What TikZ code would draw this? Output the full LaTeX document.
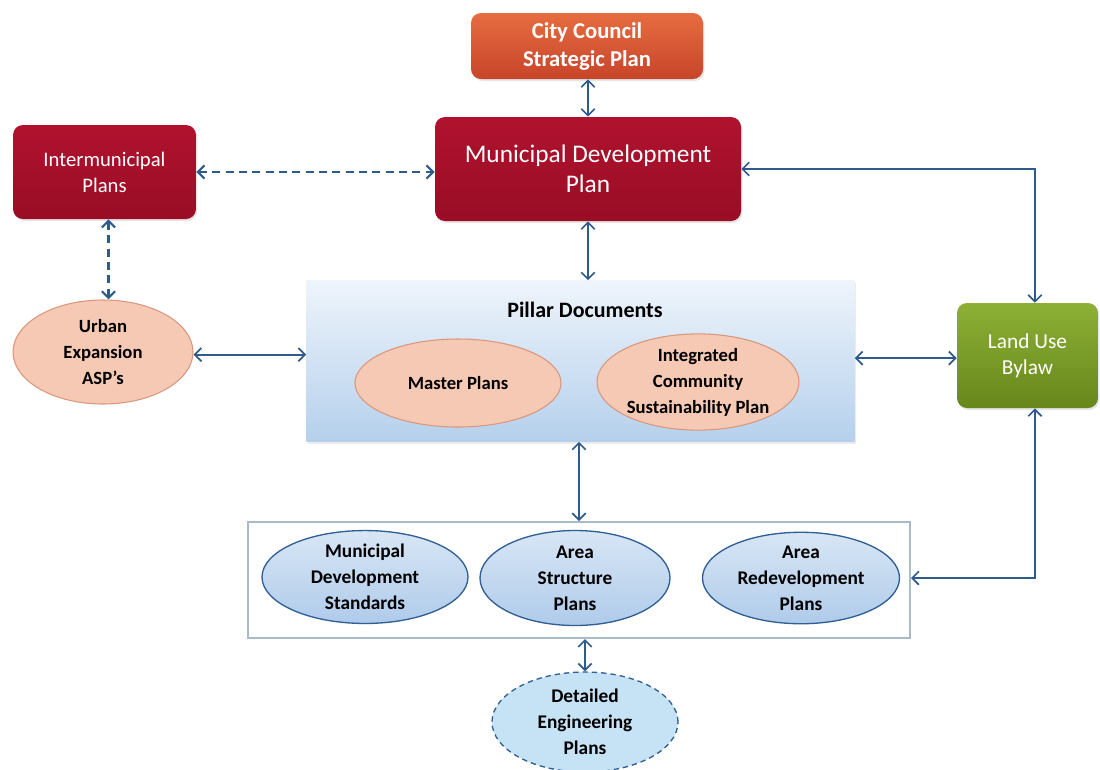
\documentclass[tikz,border=0pt]{standalone}
\usepackage{fontspec}
\setmainfont{Carlito}
\usetikzlibrary{arrows.meta,shapes.geometric,shadows,calc}
\definecolor{arrowblue}{HTML}{2E5A8C}
\definecolor{ccTop}{HTML}{E66C40}
\definecolor{ccBot}{HTML}{C7452A}
\definecolor{redTop}{HTML}{B0122E}
\definecolor{redBot}{HTML}{990D25}
\definecolor{peach}{HTML}{F6C9B4}
\definecolor{peachLine}{HTML}{D9977C}
\definecolor{pilTop}{HTML}{EEF4FB}
\definecolor{pilBot}{HTML}{B5D0EC}
\definecolor{blueTop}{HTML}{D8E6F5}
\definecolor{blueBot}{HTML}{AFCBEA}
\definecolor{blueLine}{HTML}{2F5F94}
\definecolor{detFill}{HTML}{C6E3F5}
\definecolor{grTop}{HTML}{8DB035}
\definecolor{grBot}{HTML}{67871C}
\definecolor{boxLine}{HTML}{A9BACB}
\tikzset{
  redbox/.style={rectangle, rounded corners=7.5pt, top color=redTop, bottom color=redBot,
     text=white, align=center, inner sep=0pt,
     drop shadow={opacity=0.2, shadow xshift=1pt, shadow yshift=-1.5pt}},
  peachell/.style={ellipse, fill=peach, draw=peachLine, line width=0.8pt, align=center, inner sep=0pt,
     font=\bfseries\fontsize{14}{19.5}\selectfont},
  blueell/.style={ellipse, top color=blueTop, bottom color=blueBot, draw=blueLine, line width=1pt,
     align=center, inner sep=0pt, font=\bfseries\fontsize{14.5}{19.5}\selectfont},
  arr/.style={draw=arrowblue, line width=1.3pt, {Straight Barb[length=5pt,width=10pt]}-{Straight Barb[length=5pt,width=10pt]}},
  dasharr/.style={arr, line width=1.6pt, dash pattern=on 6pt off 4pt},
}
\begin{document}
\begin{tikzpicture}[x=0.75pt, y=-0.75pt]
\useasboundingbox (0,0) rectangle (1100,769);

% boxes
\node[rectangle, rounded corners=7.5pt, top color=ccTop, bottom color=ccBot, text=white, align=center,
      inner sep=0pt, minimum width=174pt, minimum height=49.5pt,
      font=\bfseries\fontsize{17}{21}\selectfont,
      drop shadow={opacity=0.2, shadow xshift=1pt, shadow yshift=-1.5pt}]
      (cc) at (587,46) {City Council\\Strategic Plan};
\node[redbox, minimum width=229.5pt, minimum height=78pt, font=\fontsize{19}{22.5}\selectfont]
      (mdp) at (588,169) {Municipal Development\\Plan};
\node[redbox, minimum width=137.25pt, minimum height=70.5pt, font=\fontsize{15.5}{19.5}\selectfont]
      (inter) at (104.5,172) {Intermunicipal\\Plans};

\node[peachell, minimum width=135pt, minimum height=78pt] (urban) at (103,352) {Urban\\Expansion\\ASP’s};

\node[rectangle, top color=pilTop, bottom color=pilBot, inner sep=0pt,
      minimum width=411pt, minimum height=120.75pt,
      drop shadow={opacity=0.15, shadow xshift=1pt, shadow yshift=-1.5pt}]
      (pillar) at (580.5,361) {};
\node[font=\bfseries\fontsize{16.5}{19.5}\selectfont] (piltitle) at (585,310) {Pillar Documents};
\node[peachell, minimum width=154.5pt, minimum height=66pt] (master) at (458,383) {Master Plans};
\node[peachell, minimum width=151.5pt, minimum height=69pt] (icsp) at (698,382) {Integrated\\Community\\Sustainability Plan};

\node[rectangle, rounded corners=7.5pt, top color=grTop, bottom color=grBot, text=white, align=center,
      inner sep=0pt, minimum width=105.75pt, minimum height=78.75pt,
      font=\fontsize{16}{19.5}\selectfont,
      drop shadow={opacity=0.2, shadow xshift=1pt, shadow yshift=-1.5pt}]
      (lub) at (1027.5,355.5) {Land Use\\Bylaw};

\node[rectangle, draw=boxLine, line width=1.5pt, fill=white, inner sep=0pt,
      minimum width=496.5pt, minimum height=87pt] (bot) at (579,580) {};
\node[blueell, minimum width=154.5pt, minimum height=67.5pt] (mds) at (365,577) {Municipal\\Development\\Standards};
\node[blueell, minimum width=142.5pt, minimum height=71.25pt] (asp) at (575,578) {Area\\Structure\\Plans};
\node[blueell, minimum width=147.75pt, minimum height=66.75pt] (arp) at (801,578) {Area\\Redevelopment\\Plans};

\node[ellipse, fill=detFill, draw=blueLine, line width=1pt, dash pattern=on 4pt off 3pt,
      align=center, inner sep=0pt, minimum width=139.5pt, minimum height=75pt,
      font=\bfseries\fontsize{14.5}{19.5}\selectfont] (det) at (585,722) {Detailed\\Engineering\\Plans};

% connectors
\draw[arr] ([xshift=0.75pt]cc.south) -- ([xshift=0.75pt]cc.south |- mdp.north);
\draw[dasharr] (inter.east) -- (inter.east -| mdp.west);
\draw[arr] (mdp.south) -- (mdp.south |- pillar.north);
\draw[dasharr] ([xshift=3pt]inter.south) -- ([xshift=3pt]inter.south |- urban.north);
\draw[arr] ([yshift=-2pt]urban.east) -- ([yshift=-2pt]urban.east -| pillar.west);
\draw[arr] ([yshift=-2pt]lub.west -| pillar.east) -- ([yshift=-2pt]lub.west);
\draw[arr] (mdp.east) -| ([xshift=5.6pt]lub.north);
\draw[arr] ([xshift=5.6pt]lub.south) |- ([yshift=1.5pt]bot.east);
\draw[arr] (bot.north |- pillar.south) -- (bot.north);
\draw[arr] (det.north |- bot.south) -- (det.north);
\end{tikzpicture}
\end{document}
